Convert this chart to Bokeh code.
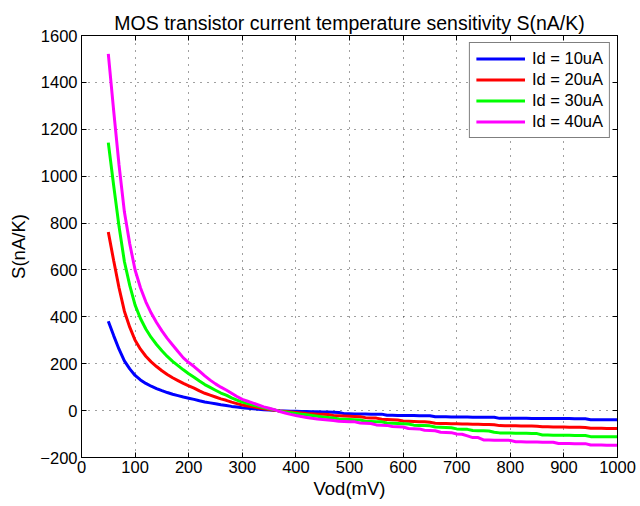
from bokeh.plotting import figure
from bokeh.models import FixedTicker, LinearAxis, Range1d, Legend, LegendItem, CustomJSTickFormatter
from bokeh.embed import file_html
from bokeh.resources import INLINE

# ---- data ----
vod_mv = list(range(50, 1001, 10))

s_10uA = [381, 320, 262, 212, 178,
          150, 131, 116, 104, 94, 85, 77, 70, 64, 58,
          53, 48, 42, 37, 33, 29, 25, 22, 18, 15,
          12, 10, 8, 6, 4, 3, 1, -1, -2, -3,
          -3, -4, -4, -5, -5, -6, -6, -7, -8, -13,
          -13, -14, -14, -14, -15, -15, -15, -20, -20, -21,
          -21, -21, -21, -22, -22, -22, -26, -26, -26, -27,
          -27, -27, -27, -28, -28, -28, -28, -28, -33, -33,
          -33, -33, -33, -33, -34, -34, -34, -34, -34, -34,
          -34, -34, -35, -35, -35, -39, -39, -39, -39, -39,
          -39]

s_20uA = [762, 640, 524, 424, 356,
          300, 262, 232, 208, 188, 170, 154, 140, 128, 116,
          106, 96, 84, 74, 66, 58, 50, 44, 36, 30,
          24, 20, 16, 12, 8, 5, 2, -2, -4, -6,
          -8, -10, -12, -13, -15, -16, -17, -21, -22, -23,
          -24, -25, -26, -30, -31, -32, -37, -38, -39, -40,
          -44, -45, -46, -47, -48, -50, -54, -55, -55, -56,
          -56, -57, -57, -58, -58, -59, -59, -60, -64, -65,
          -65, -65, -66, -66, -66, -67, -69, -69, -70, -70,
          -70, -71, -71, -71, -72, -75, -75, -75, -76, -76,
          -76]

s_30uA = [1143, 960, 786, 636, 534,
          450, 393, 348, 312, 282, 255, 231, 210, 192, 174,
          157, 142, 126, 111, 99, 87, 75, 66, 54, 45,
          36, 30, 24, 18, 12, 8, 3, -3, -6, -9,
          -12, -15, -18, -21, -24, -27, -29, -31, -36, -37,
          -38, -39, -40, -45, -46, -47, -48, -53, -54, -55,
          -56, -57, -62, -63, -64, -65, -70, -71, -72, -73,
          -78, -79, -80, -85, -86, -86, -87, -92, -95, -96,
          -96, -97, -97, -97, -98, -98, -104, -104, -105, -105,
          -105, -105, -106, -106, -106, -111, -111, -112, -112, -112,
          -112]

s_40uA = [1522, 1280, 1048, 848, 712,
          600, 524, 464, 416, 376, 340, 308, 280, 252, 225,
          205, 188, 168, 148, 130, 114, 100, 88, 74, 60,
          48, 40, 32, 24, 16, 10, 4, -4, -10, -16,
          -21, -25, -29, -33, -36, -38, -40, -42, -45, -46,
          -47, -48, -53, -54, -55, -61, -62, -63, -68, -69,
          -70, -76, -77, -78, -84, -85, -86, -92, -93, -94,
          -100, -101, -108, -115, -115, -125, -125, -126, -126, -126,
          -127, -133, -133, -134, -134, -134, -135, -135, -135, -140,
          -140, -140, -141, -141, -141, -147, -147, -147, -148, -148,
          -148]

series_labels = ["Id = 10uA", "Id = 20uA", "Id = 30uA", "Id = 40uA"]
series_colors = ["#0000ff", "#ff0000", "#00ff00", "#ff00ff"]
x_ticks = [0, 100, 200, 300, 400, 500, 600, 700, 800, 900, 1000]
y_ticks = [-200, 0, 200, 400, 600, 800, 1000, 1200, 1400, 1600]

FONT = "Liberation Sans"

p = figure(width=640, height=506, output_backend="svg", toolbar_location=None,
           x_range=Range1d(0, 1000), y_range=Range1d(-200, 1600),
           min_border_left=81, min_border_right=23, min_border_top=35,
           min_border_bottom=49,
           title="MOS transistor current temperature sensitivity S(nA/K)")

p.title.text_font = FONT
p.title.text_font_size = "19.5px"
p.title.text_font_style = "normal"
p.title.align = "center"
p.title.text_color = "black"
p.title.standoff = 3

p.outline_line_color = "black"
p.outline_line_width = 1
p.background_fill_color = "white"
p.border_fill_color = "white"

for ax in (p.xaxis[0], p.yaxis[0]):
    ax.major_tick_in = 5
    ax.major_tick_out = 0
    ax.minor_tick_line_color = None
    ax.axis_line_color = "black"
    ax.major_tick_line_color = "black"
    ax.major_label_text_font = FONT
    ax.major_label_text_font_size = "16.5px"
    ax.major_label_text_color = "black"
    ax.axis_label_text_font = FONT
    ax.axis_label_text_font_size = "18.5px"
    ax.axis_label_text_font_style = "normal"
    ax.axis_label_text_color = "black"

p.xaxis[0].ticker = FixedTicker(ticks=x_ticks)
p.yaxis[0].ticker = FixedTicker(ticks=y_ticks)
p.xaxis[0].axis_label = "Vod(mV)"
p.yaxis[0].axis_label = "S(nA/K)"
p.xaxis[0].major_label_standoff = 3
p.yaxis[0].major_label_standoff = 4
p.xaxis[0].axis_label_standoff = 2
p.yaxis[0].axis_label_standoff = 8

# box ticks on top and right (no labels)
blank = CustomJSTickFormatter(code="return '';")
top_ax = LinearAxis(ticker=FixedTicker(ticks=x_ticks), major_tick_in=5, major_tick_out=0,
                    minor_tick_line_color=None, formatter=blank,
                    major_label_standoff=0, axis_line_color="black")
right_ax = LinearAxis(ticker=FixedTicker(ticks=y_ticks), major_tick_in=5, major_tick_out=0,
                      minor_tick_line_color=None, formatter=blank,
                      major_label_standoff=0, axis_line_color="black")
p.add_layout(top_ax, "above")
p.add_layout(right_ax, "right")

p.xgrid.ticker = FixedTicker(ticks=x_ticks)
p.ygrid.ticker = FixedTicker(ticks=y_ticks)
for g in (p.xgrid[0], p.ygrid[0]):
    g.grid_line_color = "black"
    g.grid_line_alpha = 0.75
    g.grid_line_dash = "1 6"
    g.grid_line_width = 1

items = []
for ys, lab, col in zip([s_10uA, s_20uA, s_30uA, s_40uA], series_labels, series_colors):
    r = p.line(vod_mv, ys, line_color=col, line_width=3)
    items.append(LegendItem(label=lab, renderers=[r]))

legend = Legend(items=items, location="top_right")
legend.margin = 7
legend.padding = 6
legend.spacing = 2
legend.glyph_width = 49
legend.glyph_height = 19
legend.label_height = 19
legend.label_standoff = 7
legend.label_text_font = FONT
legend.label_text_font_size = "16.5px"
legend.label_text_color = "black"
legend.border_line_color = "black"
legend.border_line_width = 1.5
legend.background_fill_color = "white"
legend.background_fill_alpha = 1
p.add_layout(legend, "center")

open("out.html", "w").write(file_html(p, INLINE))
